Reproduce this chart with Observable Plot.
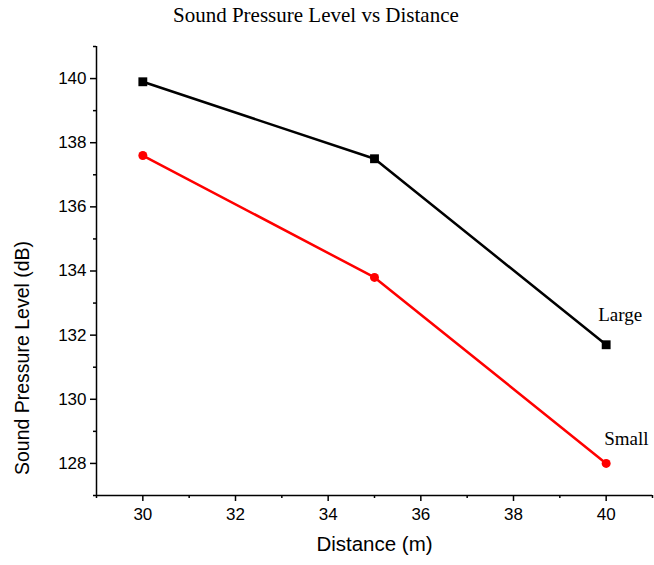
<!DOCTYPE html>
<html>
<head>
<meta charset="utf-8">
<script src="https://cdn.jsdelivr.net/npm/d3@7"></script>
<script src="https://cdn.jsdelivr.net/npm/@observablehq/plot@0.6"></script>
<style>
  body { margin: 0; background: white; }
  #wrap { position: relative; width: 654px; height: 565px; }
  #title { position: absolute; left: 173px; top: 3px; font-family: "Liberation Serif", "Times New Roman", serif; font-size: 21px; color: black; white-space: nowrap; }
  svg { display: block; }
</style>
</head>
<body>
<div id="wrap">
  <div id="title">Sound Pressure Level vs Distance</div>
</div>
<script>
const distance = [30, 35, 40];
const largeValues = [139.9, 137.5, 131.7];
const smallValues = [137.6, 133.8, 128.0];
const seriesNames = ["Large", "Small"];
const seriesColors = ["black", "red"];
const xMajorTicks = [30, 32, 34, 36, 38, 40];
const xMinorTicks = [29, 31, 33, 35, 37, 39, 41];
const yMajorTicks = [128, 130, 132, 134, 136, 138, 140];
const yMinorTicks = [127, 129, 131, 133, 135, 137, 139, 141];
const xLabel = "Distance (m)";
const yLabel = "Sound Pressure Level (dB)";

const largeRows = distance.map((d, i) => ({distance: d, value: largeValues[i], series: seriesNames[0]}));
const smallRows = distance.map((d, i) => ({distance: d, value: smallValues[i], series: seriesNames[1]}));

const sans = "'Liberation Sans', Arial, Helvetica, sans-serif";
const serif = "'Liberation Serif', 'Times New Roman', serif";

const chart = Plot.plot({
  width: 654,
  height: 565,
  marginLeft: 96,
  marginRight: 2,
  marginTop: 46,
  marginBottom: 70,
  x: {domain: [29, 41]},
  y: {domain: [127, 141]},
  style: {fontFamily: sans, fontSize: "17px", color: "black", background: "white"},
  marks: [
    Plot.axisY({ticks: yMajorTicks, tickSize: 6, tickPadding: 4, strokeWidth: 1.5, label: null, fontSize: 17}),
    Plot.axisY({ticks: yMinorTicks, tickSize: 3, strokeWidth: 1.5, tickFormat: () => "", label: null}),
    Plot.axisX({ticks: xMajorTicks, tickSize: 6, tickPadding: 6, strokeWidth: 1.5, label: null, fontSize: 17}),
    Plot.axisX({ticks: xMinorTicks, tickSize: 3, strokeWidth: 1.5, tickFormat: () => "", label: null}),
    Plot.ruleX([29], {stroke: "black", strokeWidth: 1.5}),
    Plot.ruleY([127], {stroke: "black", strokeWidth: 1.5}),
    Plot.text([xLabel], {frameAnchor: "bottom", textAnchor: "middle", dy: 55, fontSize: 20.5, fontFamily: sans, fill: "black"}),
    Plot.text([yLabel], {frameAnchor: "left", textAnchor: "middle", rotate: -90, dx: -74, dy: 87, fontSize: 19.5, fontFamily: sans, fill: "black"}),
    Plot.line(largeRows, {x: "distance", y: "value", stroke: seriesColors[0], strokeWidth: 2.5}),
    Plot.line(smallRows, {x: "distance", y: "value", stroke: seriesColors[1], strokeWidth: 2.5}),
    Plot.dot(largeRows, {x: "distance", y: "value", symbol: "square", fill: seriesColors[0], r: 5}),
    Plot.dot(smallRows, {x: "distance", y: "value", fill: seriesColors[1], r: 4.5}),
    Plot.text(largeRows.slice(-1), {x: "distance", y: "value", text: "series", textAnchor: "start", dx: -8, dy: -30, fontSize: 19, fontFamily: serif, fill: "black"}),
    Plot.text(smallRows.slice(-1), {x: "distance", y: "value", text: "series", textAnchor: "start", dx: -2, dy: -25, fontSize: 19, fontFamily: serif, fill: "black"})
  ]
});
document.getElementById("wrap").prepend(chart);
</script>
</body>
</html>
